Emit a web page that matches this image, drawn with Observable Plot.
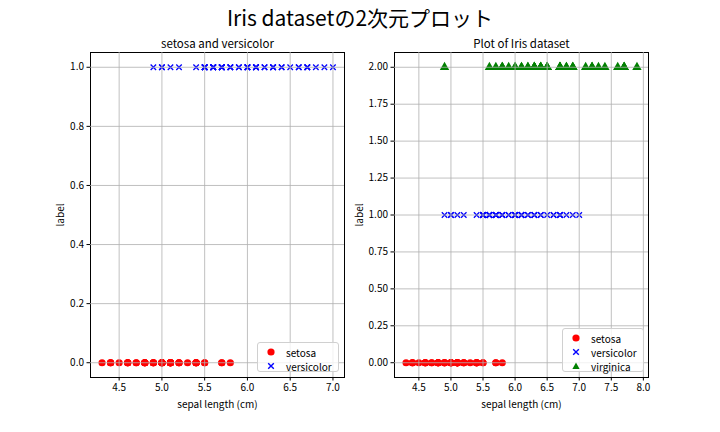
<!DOCTYPE html>
<html>
<head>
<meta charset="utf-8">
<script src="https://cdn.jsdelivr.net/npm/d3@7"></script>
<script src="https://cdn.jsdelivr.net/npm/@observablehq/plot@0.6"></script>
<style>
  body { margin: 0; background: #fff; }
  #fig { position: relative; width: 720px; height: 432px; font-family: "Noto Sans CJK JP", "Noto Sans", sans-serif; }
  #title { position: absolute; top: 2px; left: 0; width: 720px; text-align: center; font-size: 21px; color: #000; }
  .panel { position: absolute; top: 30px; }
  .legend { position: absolute; background: rgba(255,255,255,0.8); border: 1px solid #d0d0d0; border-radius: 3px; font-size: 10px; color: #000; box-sizing: border-box; padding: 2px 0; }
  .legend .row { display: flex; align-items: center; height: 14px; }
  .legend svg { margin-left: 8px; margin-right: 10px; }
</style>
</head>
<body>
<div id="fig">
  <div id="title">Iris datasetの2次元プロット</div>
</div>
<script>
const mainTitle = "Iris datasetの2次元プロット";
const leftTitle = "setosa and versicolor";
const rightTitle = "Plot of Iris dataset";
const xLabel = "sepal length (cm)";
const yLabel = "label";
const speciesNames = ["setosa", "versicolor", "virginica"];
const speciesLabels = [0, 1, 2];
const speciesColors = ["red", "blue", "green"];
const speciesSymbols = ["circle", "times", "triangle"];

const setosaSepal = [5.1,4.9,4.7,4.6,5.0,5.4,4.6,5.0,4.4,4.9,5.4,4.8,4.8,4.3,5.8,5.7,5.4,5.1,5.7,5.1,5.4,5.1,4.6,5.1,4.8,5.0,5.0,5.2,5.2,4.7,4.8,5.4,5.2,5.5,4.9,5.0,5.5,4.9,4.4,5.1,5.0,4.5,4.4,5.0,5.1,4.8,5.1,4.6,5.3,5.0];
const versicolorSepal = [7.0,6.4,6.9,5.5,6.5,5.7,6.3,4.9,6.6,5.2,5.0,5.9,6.0,6.1,5.6,6.7,5.6,5.8,6.2,5.6,5.9,6.1,6.3,6.1,6.4,6.6,6.8,6.7,6.0,5.7,5.5,5.5,5.8,6.0,5.4,6.0,6.7,6.3,5.6,5.5,5.5,6.1,5.8,5.0,5.6,5.7,5.7,6.2,5.1,5.7];
const virginicaSepal = [6.3,5.8,7.1,6.3,6.5,7.6,4.9,7.3,6.7,7.2,6.5,6.4,6.8,5.7,5.8,6.4,6.5,7.7,7.7,6.0,6.9,5.6,7.7,6.3,6.7,7.2,6.2,6.1,6.4,7.2,7.4,7.9,6.4,6.3,6.1,7.7,6.3,6.4,6.0,6.9,6.7,6.9,5.8,6.8,6.7,6.7,6.3,6.5,6.2,5.9];

const leftXTicks = [4.5, 5.0, 5.5, 6.0, 6.5, 7.0];
const leftYTicks = [0.0, 0.2, 0.4, 0.6, 0.8, 1.0];
const rightXTicks = [4.5, 5.0, 5.5, 6.0, 6.5, 7.0, 7.5, 8.0];
const rightYTicks = [0.0, 0.25, 0.5, 0.75, 1.0, 1.25, 1.5, 1.75, 2.0];

const allSepal = [setosaSepal, versicolorSepal, virginicaSepal];
const rows = [];
allSepal.forEach((arr, i) => arr.forEach(v => rows.push({x: v, label: speciesLabels[i], sp: i})));

const FONT = '"Noto Sans CJK JP", "Noto Sans", sans-serif';

function withMargin(lo, hi) { const m = (hi - lo) * 0.05; return [lo - m, hi + m]; }

function panel(nSpecies, title, xTicks, yTicks, yFmt, opts) {
  const data = rows.filter(d => d.sp < nSpecies);
  const xs = data.map(d => d.x), ys = data.map(d => d.label);
  const marks = [
    Plot.frame({stroke: "black", strokeWidth: 1}),
  ];
  for (let i = 0; i < nSpecies; i++) {
    const sub = data.filter(d => d.sp === i);
    const sym = speciesSymbols[i];
    const o = {x: "x", y: "label", symbol: () => sym, r: sym === "circle" ? 3.6 : sym === "triangle" ? 3.5 : 2.6};
    if (sym === "times") { o.stroke = speciesColors[i]; o.strokeWidth = 1.3; o.fill = "none"; }
    else { o.fill = speciesColors[i]; o.stroke = "none"; }
    marks.push(Plot.dot(sub, o));
  }
  marks.push(
    Plot.gridX(xTicks, {stroke: "#b0b0b0", strokeOpacity: 1, strokeWidth: 0.8}),
    Plot.gridY(yTicks, {stroke: "#b0b0b0", strokeOpacity: 1, strokeWidth: 0.8}),
    Plot.axisX(xTicks, {tickSize: 3.5, tickPadding: 3, tickFormat: d3.format(".1f"), fontSize: 10,
      label: xLabel, labelAnchor: "center", labelArrow: "none", labelOffset: 30}),
    Plot.axisY(yTicks, {tickSize: 3.5, tickPadding: 3, tickFormat: d3.format(yFmt), fontSize: 10,
      label: yLabel, labelAnchor: "center", labelArrow: "none", labelOffset: opts.yLabelOffset}),
    Plot.text([title], {frameAnchor: "top", dy: -13, fontSize: 11.5, fill: "black"})
  );
  return Plot.plot({
    width: opts.width, height: 402,
    marginLeft: opts.marginLeft, marginRight: opts.marginRight, marginTop: 22, marginBottom: 55,
    style: {fontFamily: FONT, fontSize: "10px", color: "#000", background: "white", overflow: "visible"},
    x: {domain: withMargin(d3.min(xs), d3.max(xs))},
    y: {domain: withMargin(d3.min(ys), d3.max(ys))},
    symbol: {type: "identity"},
    marks
  });
}

const fig = document.getElementById("fig");
document.getElementById("title").textContent = mainTitle;

const left = panel(2, leftTitle, leftXTicks, leftYTicks, ".1f", {width: 350, marginLeft: 90, marginRight: 6, yLabelOffset: 34});
left.classList.add("panel"); left.style.left = "0px";
fig.appendChild(left);

const right = panel(3, rightTitle, rightXTicks, rightYTicks, ".2f", {width: 370, marginLeft: 44, marginRight: 72, yLabelOffset: 39});
right.classList.add("panel"); right.style.left = "350px";
fig.appendChild(right);

function legend(n, box) {
  const div = document.createElement("div");
  div.className = "legend";
  Object.assign(div.style, box);
  for (let i = 0; i < n; i++) {
    const row = document.createElement("div");
    row.className = "row";
    const c = speciesColors[i];
    let shape;
    if (speciesSymbols[i] === "circle") shape = `<circle cx="5" cy="5" r="3.6" fill="${c}"/>`;
    else if (speciesSymbols[i] === "times") shape = `<path d="M2.2,2.2L7.8,7.8M7.8,2.2L2.2,7.8" stroke="${c}" stroke-width="1.4"/>`;
    else shape = `<path d="M5,1.5L8.6,8L1.4,8Z" fill="${c}"/>`;
    row.innerHTML = `<svg width="10" height="10">${shape}</svg><span>${speciesNames[i]}</span>`;
    div.appendChild(row);
  }
  fig.appendChild(div);
}
legend(2, {left: "257px", top: "342px", width: "82px", height: "30px"});
legend(3, {left: "562px", top: "328px", width: "82px", height: "44px"});
</script>
</body>
</html>
